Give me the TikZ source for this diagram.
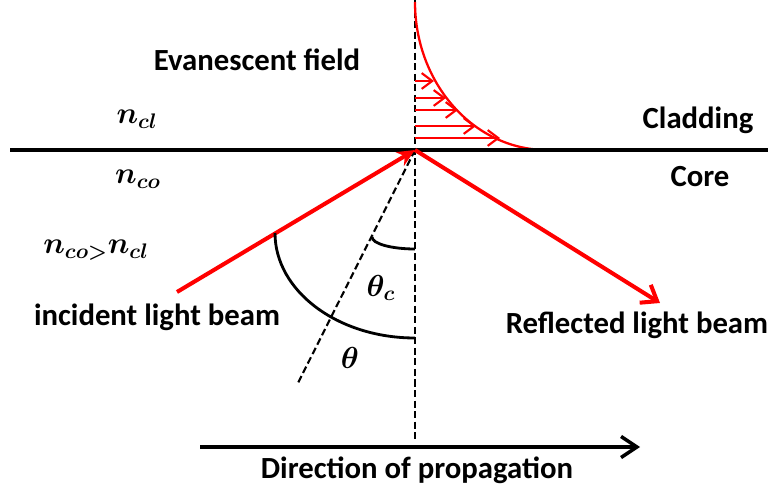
\documentclass[tikz,border=0pt]{standalone}
\usepackage{fontspec}
\setmainfont{Carlito}
\usetikzlibrary{positioning,arrows.meta}
\definecolor{beamred}{HTML}{FF0000}

\begin{document}
\begin{tikzpicture}[
      x=0.02cm, y=0.02cm,
      font=\fontsize{17.5}{20}\selectfont\bfseries,
      mlbl/.style={font=\fontsize{17}{20}\selectfont\boldmath},
      beam/.style={draw=beamred, line width=2.3pt},
      guide/.style={draw=black, line width=1.2pt, dash pattern=on 4pt off 2pt},
      field/.style={draw=beamred, line width=1.2pt, -{Straight Barb[length=6pt, width=9pt]}},
      angarc/.style={draw=black, line width=1.6pt}
    ]
    \useasboundingbox (0,0) rectangle (774,497);
    % points
    \coordinate (O)    at (415,347);
    \coordinate (vtop) at (415,497);
    \coordinate (vbot) at (415,57);
    \coordinate (ifL)  at (10,347);
    \coordinate (ifR)  at (768,347);
    \coordinate (src)  at (177,205);
    \coordinate (dst)  at (660,194);
    \coordinate (nrm)  at (297,112);
    \coordinate (dirL) at (200,50);
    \coordinate (dirR) at (640,50);

    % axes
    \draw[guide] (vtop) -- (vbot);
    \draw[guide] (O) -- (nrm);

    % evanescent field
    \draw[draw=beamred, line width=1.3pt] (415,495) arc[start angle=180, end angle=270, x radius=132, y radius=148];
    \draw[field] (415,416) -- (434,416);
    \draw[field] (415,399) -- (446,399);
    \draw[field] (415,387) -- (458,387);
    \draw[field] (415,371) -- (476,371);
    \draw[field] (415,359) -- (500,359);

    % interface
    \draw[line width=2.3pt] (ifL) -- (ifR);

    % beams
    \draw[beam, -{Stealth[length=10pt, width=9pt]}] (src) -- (O);
    \draw[beam, -{Straight Barb[length=8pt, width=12pt]}] (O) -- (dst);

    % angles
    \draw[angarc] (372,260) arc[start angle=180, end angle=270, x radius=43, y radius=12];
    \draw[angarc] (275,264) arc[start angle=180, end angle=270, x radius=140, y radius=105];

    % propagation
    \draw[line width=2pt, -{Straight Barb[length=9pt, width=12pt]}] (dirL) -- (dirR);

    % labels
    \node (evan) at (257,437) {Evanescent field};
    \node[mlbl] (ncl) at (137,378) {$n_{cl}$};
    \node[mlbl] (nco) at (138,318) {$n_{co}$};
    \node[mlbl] (ncmp) at (96,247) {$n_{co>}n_{cl}$};
    \node (inc) at (157,180) {incident light beam};
    \node (refl) at (637,172) {Reflected light beam};
    \node (clad) at (698,377) {Cladding};
    \node (core) at (700,320) {Core};
    \node[mlbl] (thc) at (381,209) {$\theta_c$};
    \node[mlbl] (th) at (350,139) {$\theta$};
    \node (dir) at (417,27) {Direction of propagation};
  \end{tikzpicture}
\end{document}
